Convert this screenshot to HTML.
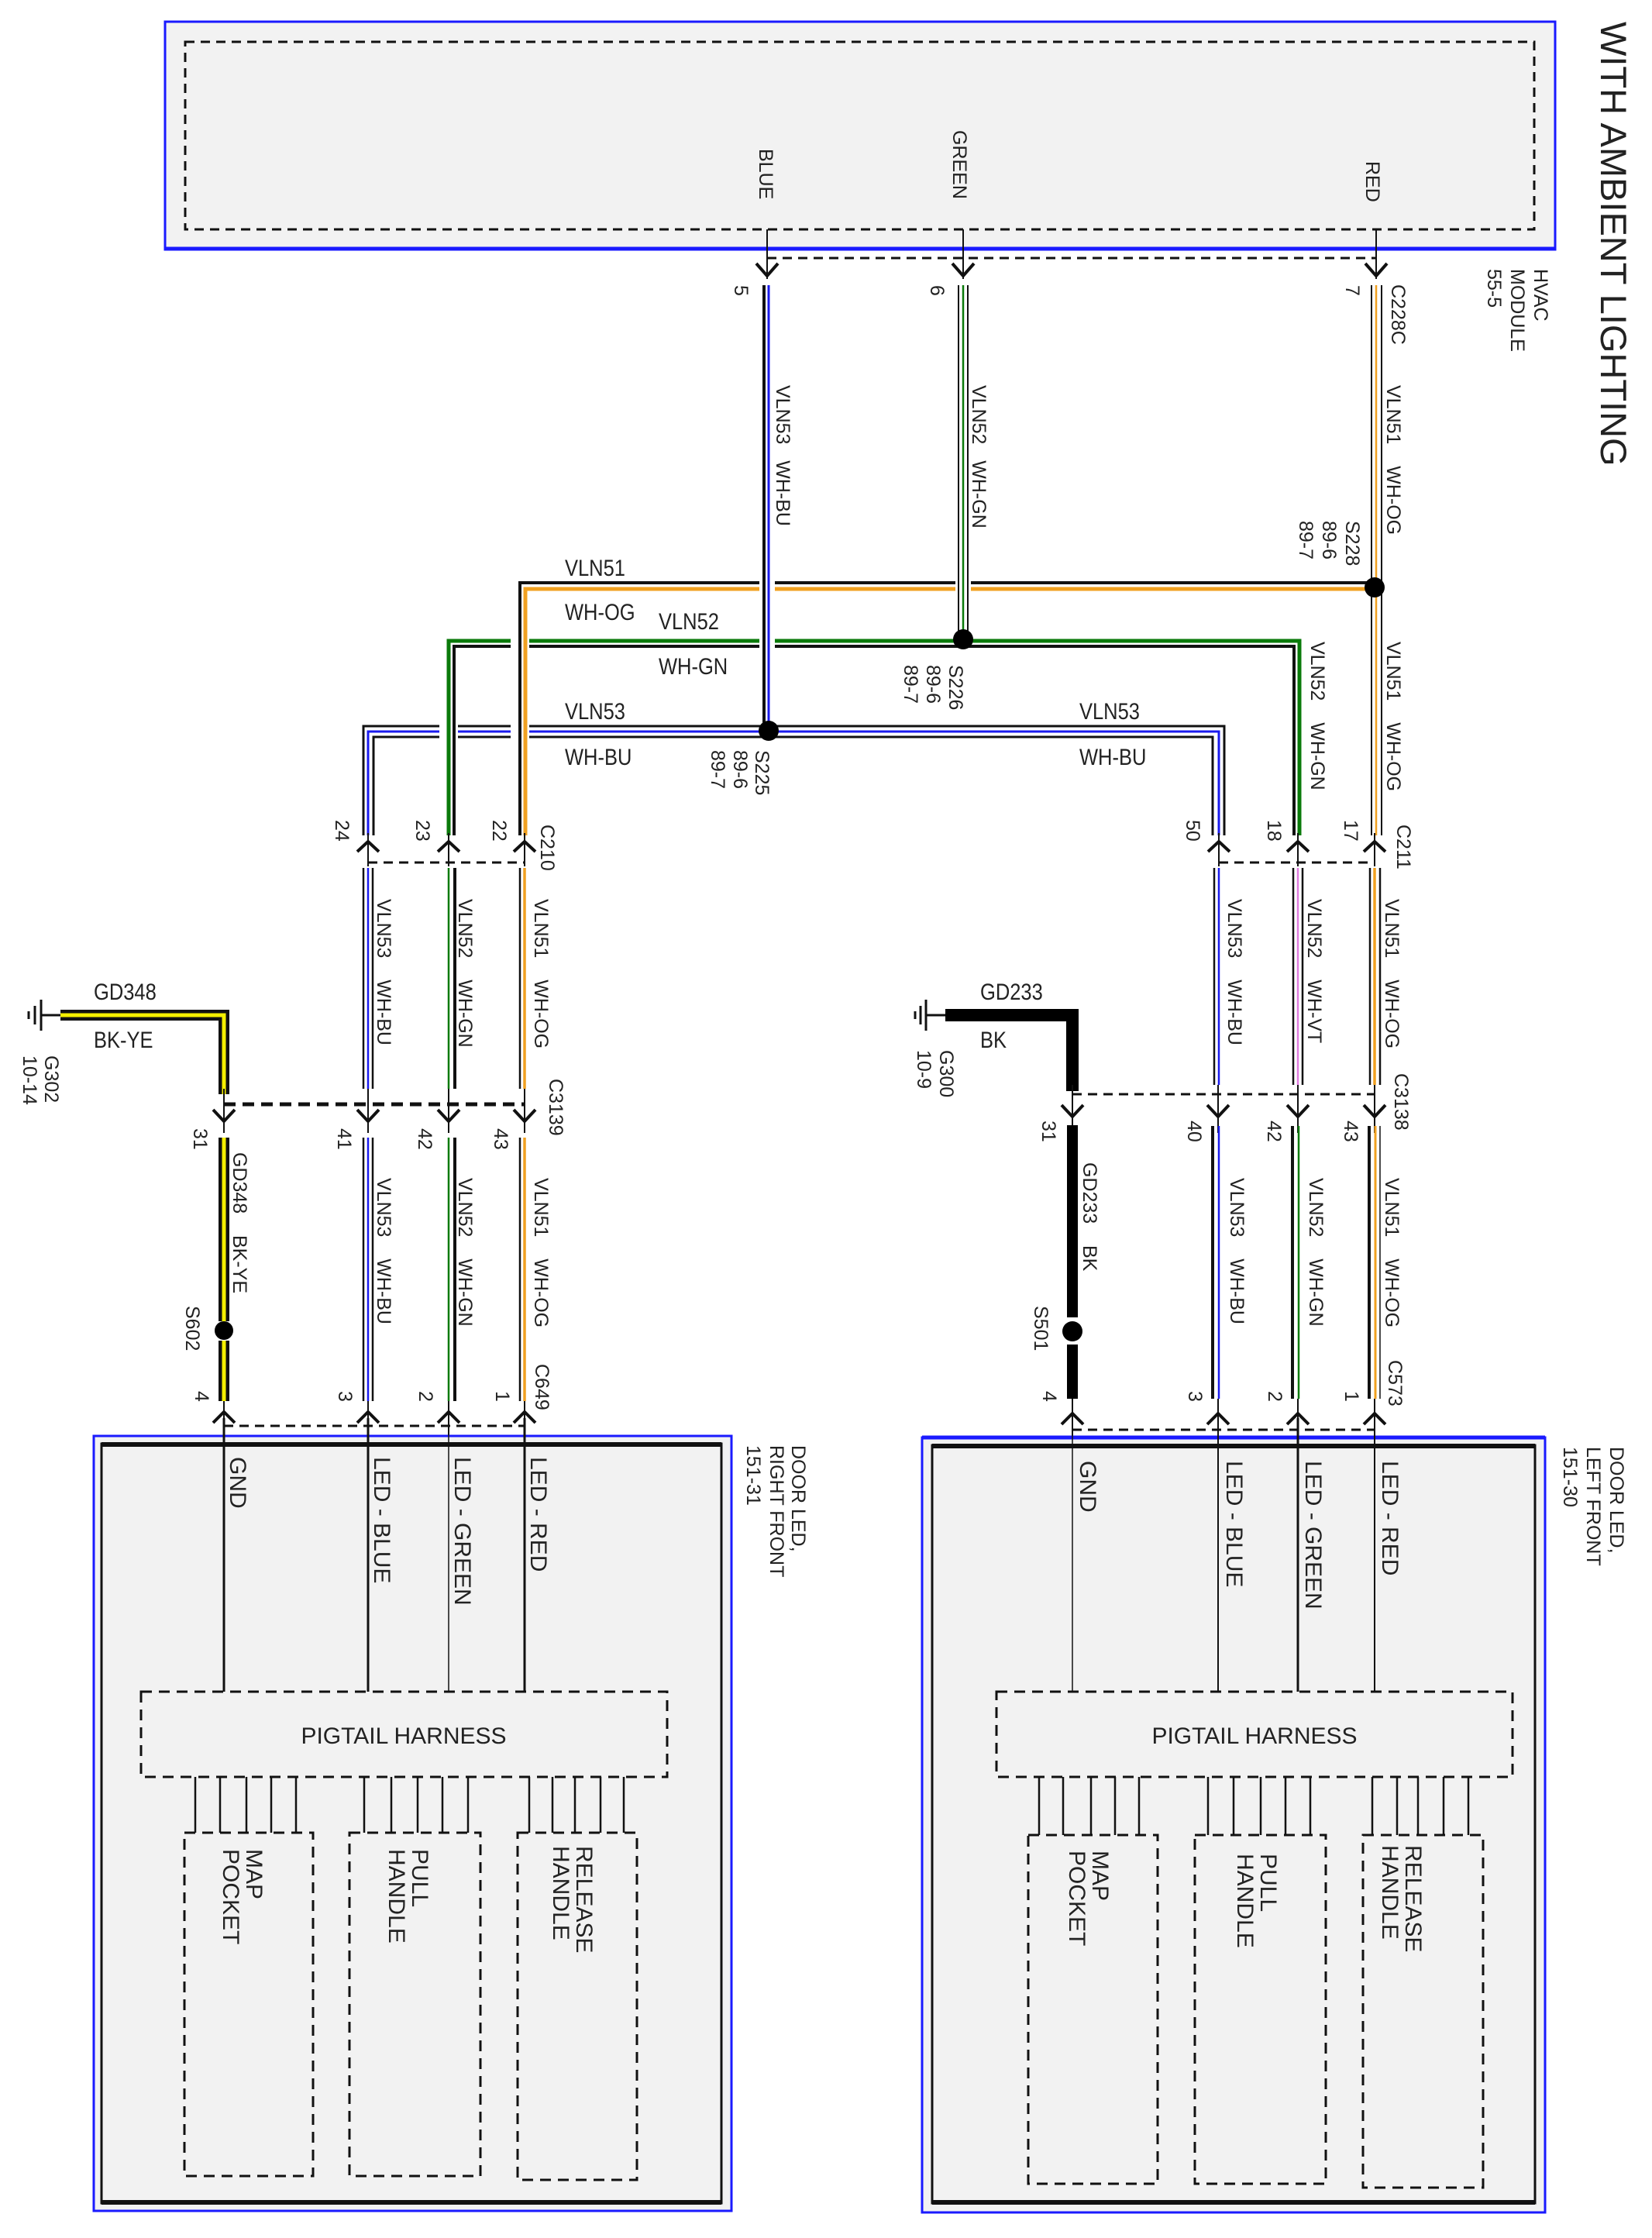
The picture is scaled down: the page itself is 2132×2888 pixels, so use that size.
<!DOCTYPE html>
<html><head><meta charset="utf-8"><style>
html,body{margin:0;padding:0;background:#fff}
svg{display:block}
text{font-family:"Liberation Sans",sans-serif;fill:#222;white-space:pre}
.r{font-size:25px}
.h{font-size:30px}
.b{font-size:30px}
</style></head><body>
<svg width="2132" height="2888" viewBox="0 0 2132 2888" xmlns="http://www.w3.org/2000/svg" xml:space="preserve">
<!-- TOP BOX -->
<rect x="213" y="28" width="1794" height="294" fill="#f2f2f2" stroke="#1a1aff" stroke-width="3"/>
<line x1="213" y1="321" x2="2007" y2="321" stroke="#1a1aff" stroke-width="5"/>
<rect x="239" y="54" width="1741" height="242" fill="none" stroke="#111" stroke-width="3" stroke-dasharray="12 8"/>
<text class="r" transform="translate(980,192) rotate(90)">BLUE</text>
<text class="r" transform="translate(1230,168) rotate(90)">GREEN</text>
<text class="r" transform="translate(1763,208) rotate(90)">RED</text>
<text transform="translate(2066,28) rotate(90)" style="font-size:47px">WITH AMBIENT LIGHTING</text>
<text class="r" transform="translate(1980,347) rotate(90)">HVAC</text>
<text class="r" transform="translate(1950,347) rotate(90)">MODULE</text>
<text class="r" transform="translate(1920,347) rotate(90)">55-5</text>
<g stroke="#111" stroke-width="2" fill="none">
<line x1="990" y1="296" x2="990" y2="360"/><line x1="1243" y1="296" x2="1243" y2="360"/><line x1="1776" y1="296" x2="1776" y2="360"/>
</g>
<line x1="990" y1="333" x2="1776" y2="333" stroke="#111" stroke-width="3" stroke-dasharray="12 8"/>
<g stroke="#111" stroke-width="4" fill="none">
<path d="M976 340 L990 356 L1004 340"/><path d="M1229 340 L1243 356 L1257 340"/><path d="M1762 340 L1776 356 L1790 340"/>
</g>
<text class="r" transform="translate(948,368) rotate(90)">5</text>
<text class="r" transform="translate(1201,368) rotate(90)">6</text>
<text class="r" transform="translate(1737,368) rotate(90)">7</text>
<text class="r" transform="translate(1796,367) rotate(90)">C228C</text>

<!-- TRUNKS -->
<g fill="none">
<path d="M469 1078 V937 H1580 V1078" stroke="#fff" stroke-width="26"/>
<path d="M469 1078 V937 H1580 V1078" stroke="#111" stroke-width="3"/>
<path d="M475 1078 V944 H1573 V1078" stroke="#1a1aee" stroke-width="3"/>
<path d="M482 1078 V951 H1565 V1078" stroke="#111" stroke-width="3"/>

<path d="M579 1078 V827 H1677 V1078" stroke="#fff" stroke-width="24"/>
<path d="M579 1078 V827 H1677 V1078" stroke="#0a7a0a" stroke-width="5"/>
<path d="M586 1078 V834 H1670 V1078" stroke="#111" stroke-width="4"/>

<path d="M671 1078 V752 H1765" stroke="#fff" stroke-width="24"/>
<path d="M671 1078 V752 H1765" stroke="#111" stroke-width="4"/>
<path d="M678 1078 V760 H1776" stroke="#f0a020" stroke-width="5"/>

<line x1="990" y1="368" x2="990" y2="935" stroke="#fff" stroke-width="20"/>
<line x1="986" y1="368" x2="986" y2="935" stroke="#111" stroke-width="4"/>
<line x1="992" y1="368" x2="992" y2="935" stroke="#1a1aee" stroke-width="3"/>
<line x1="1243" y1="368" x2="1243" y2="820" stroke="#fff" stroke-width="20"/>
<line x1="1237" y1="368" x2="1237" y2="820" stroke="#111" stroke-width="2"/>
<line x1="1243" y1="368" x2="1243" y2="820" stroke="#0a7a0a" stroke-width="2.5"/>
<line x1="1249" y1="368" x2="1249" y2="820" stroke="#111" stroke-width="2"/>
<line x1="1770" y1="368" x2="1770" y2="1078" stroke="#111" stroke-width="2"/>
<line x1="1776" y1="368" x2="1776" y2="1078" stroke="#f0a020" stroke-width="2.5"/>
<line x1="1783" y1="368" x2="1783" y2="1078" stroke="#111" stroke-width="2"/>
</g>
<circle cx="1774" cy="758" r="13" fill="#000"/>
<circle cx="1243" cy="825" r="13" fill="#000"/>
<circle cx="992" cy="943" r="13" fill="#000"/>

<text class="r" transform="translate(1002,497) rotate(90)">VLN53   WH-BU</text>
<text class="r" transform="translate(1255,497) rotate(90)">VLN52   WH-GN</text>
<text class="r" transform="translate(1790,497) rotate(90)">VLN51    WH-OG</text>
<text class="r" transform="translate(1737,672) rotate(90)">S228</text>
<text class="r" transform="translate(1707,672) rotate(90)">89-6</text>
<text class="r" transform="translate(1677,672) rotate(90)">89-7</text>
<text class="r" transform="translate(1225,858) rotate(90)">S226</text>
<text class="r" transform="translate(1196,858) rotate(90)">89-6</text>
<text class="r" transform="translate(1167,858) rotate(90)">89-7</text>
<text class="r" transform="translate(975,968) rotate(90)">S225</text>
<text class="r" transform="translate(947,968) rotate(90)">89-6</text>
<text class="r" transform="translate(918,968) rotate(90)">89-7</text>
<text class="r" transform="translate(1790,828) rotate(90)">VLN51    WH-OG</text>
<text class="r" transform="translate(1692,828) rotate(90)">VLN52    WH-GN</text>

<g style="font-size:30px">
<text transform="translate(729,743) scale(0.85,1)">VLN51</text>
<text transform="translate(729,800) scale(0.85,1)">WH-OG</text>
<text transform="translate(850,812) scale(0.85,1)">VLN52</text>
<text transform="translate(850,870) scale(0.85,1)">WH-GN</text>
<text transform="translate(729,928) scale(0.85,1)">VLN53</text>
<text transform="translate(729,987) scale(0.85,1)">WH-BU</text>
<text transform="translate(1393,928) scale(0.85,1)">VLN53</text>
<text transform="translate(1393,987) scale(0.85,1)">WH-BU</text>
<text transform="translate(121,1290) scale(0.85,1)">GD348</text>
<text transform="translate(121,1352) scale(0.85,1)">BK-YE</text>
<text transform="translate(1265,1290) scale(0.85,1)">GD233</text>
<text transform="translate(1265,1352) scale(0.85,1)">BK</text>
</g>

<g stroke="#111" stroke-width="2">
<line x1="475" y1="1075" x2="475" y2="1118"/><line x1="579" y1="1075" x2="579" y2="1118"/><line x1="677" y1="1075" x2="677" y2="1118"/>
<line x1="1573" y1="1075" x2="1573" y2="1118"/><line x1="1675" y1="1075" x2="1675" y2="1118"/><line x1="1774" y1="1075" x2="1774" y2="1118"/>
</g>
<g stroke="#111" stroke-width="3" stroke-dasharray="12 8">
<line x1="475" y1="1113" x2="677" y2="1113"/><line x1="1573" y1="1113" x2="1774" y2="1113"/>
</g>
<g stroke="#111" stroke-width="4" fill="none">
<path d="M461 1099 L475 1086 L489 1099"/><path d="M565 1099 L579 1086 L593 1099"/><path d="M663 1099 L677 1086 L691 1099"/>
<path d="M1559 1099 L1573 1086 L1587 1099"/><path d="M1661 1099 L1675 1086 L1689 1099"/><path d="M1760 1099 L1774 1086 L1788 1099"/>
</g>
<text class="r" transform="translate(433,1058) rotate(90)">24</text>
<text class="r" transform="translate(537,1058) rotate(90)">23</text>
<text class="r" transform="translate(636,1058) rotate(90)">22</text>
<text class="r" transform="translate(698,1064) rotate(90)">C210</text>
<text class="r" transform="translate(1531,1058) rotate(90)">50</text>
<text class="r" transform="translate(1636,1058) rotate(90)">18</text>
<text class="r" transform="translate(1735,1058) rotate(90)">17</text>
<text class="r" transform="translate(1803,1064) rotate(90)">C211</text>

<g stroke-width="2.5">
<line x1="469" y1="1120" x2="469" y2="1405" stroke="#111"/><line x1="475" y1="1120" x2="475" y2="1405" stroke="#1a1aee"/><line x1="481" y1="1120" x2="481" y2="1405" stroke="#111"/>
<line x1="579" y1="1120" x2="579" y2="1405" stroke="#0a7a0a"/><line x1="587" y1="1120" x2="587" y2="1405" stroke="#111" stroke-width="4"/>
<line x1="671" y1="1120" x2="671" y2="1405" stroke="#111"/><line x1="677" y1="1120" x2="677" y2="1405" stroke="#f0a020" stroke-width="3.5"/>
<line x1="1567" y1="1120" x2="1567" y2="1400" stroke="#111"/><line x1="1573" y1="1120" x2="1573" y2="1400" stroke="#1a1aee"/>
<line x1="1669" y1="1120" x2="1669" y2="1400" stroke="#111"/><line x1="1675" y1="1120" x2="1675" y2="1400" stroke="#e07be0"/><line x1="1681" y1="1120" x2="1681" y2="1400" stroke="#111"/>
<line x1="1768" y1="1120" x2="1768" y2="1400" stroke="#111"/><line x1="1774" y1="1120" x2="1774" y2="1400" stroke="#f0a020" stroke-width="3.5"/><line x1="1781" y1="1120" x2="1781" y2="1400" stroke="#111"/>
</g>
<text class="r" transform="translate(487,1160) rotate(90)">VLN53    WH-BU</text>
<text class="r" transform="translate(592,1160) rotate(90)">VLN52    WH-GN</text>
<text class="r" transform="translate(690,1160) rotate(90)">VLN51    WH-OG</text>
<text class="r" transform="translate(709,1392) rotate(90)">C3139</text>
<text class="r" transform="translate(1585,1160) rotate(90)">VLN53    WH-BU</text>
<text class="r" transform="translate(1688,1160) rotate(90)">VLN52    WH-VT</text>
<text class="r" transform="translate(1788,1160) rotate(90)">VLN51    WH-OG</text>
<text class="r" transform="translate(1800,1385) rotate(90)">C3138</text>

<g stroke="#111" stroke-width="3">
<line x1="53" y1="1290" x2="53" y2="1330"/><line x1="45" y1="1298" x2="45" y2="1322"/><line x1="37" y1="1305" x2="37" y2="1315"/><line x1="53" y1="1310" x2="80" y2="1310"/>
<line x1="1195" y1="1290" x2="1195" y2="1330"/><line x1="1188" y1="1298" x2="1188" y2="1322"/><line x1="1181" y1="1305" x2="1181" y2="1315"/><line x1="1195" y1="1310" x2="1220" y2="1310"/>
</g>
<path d="M78 1310 H289 V1412" fill="none" stroke="#111" stroke-width="14"/>
<path d="M78 1310 H289 V1412" fill="none" stroke="#f5f000" stroke-width="5"/>
<path d="M1220 1310 H1384 V1408" fill="none" stroke="#000" stroke-width="16"/>
<text class="r" transform="translate(58,1362) rotate(90)">G302</text>
<text class="r" transform="translate(30,1362) rotate(90)">10-14</text>
<text class="r" transform="translate(1213,1355) rotate(90)">G300</text>
<text class="r" transform="translate(1184,1355) rotate(90)">10-9</text>

<g stroke="#111" stroke-width="2">
<line x1="289" y1="1405" x2="289" y2="1462"/><line x1="475" y1="1405" x2="475" y2="1462"/><line x1="579" y1="1405" x2="579" y2="1462"/><line x1="677" y1="1405" x2="677" y2="1462"/>
<line x1="1384" y1="1400" x2="1384" y2="1462"/><line x1="1572" y1="1400" x2="1572" y2="1462"/><line x1="1675" y1="1400" x2="1675" y2="1462"/><line x1="1774" y1="1400" x2="1774" y2="1462"/>
</g>
<line x1="289" y1="1425" x2="677" y2="1425" stroke="#111" stroke-width="5" stroke-dasharray="15 9"/>
<line x1="1384" y1="1412" x2="1774" y2="1412" stroke="#111" stroke-width="3" stroke-dasharray="12 8"/>
<g stroke="#111" stroke-width="4" fill="none">
<path d="M275 1432 L289 1447 L303 1432"/><path d="M461 1432 L475 1447 L489 1432"/><path d="M565 1432 L579 1447 L593 1432"/><path d="M663 1432 L677 1447 L691 1432"/>
<path d="M1370 1426 L1384 1441 L1398 1426"/><path d="M1558 1426 L1572 1441 L1586 1426"/><path d="M1661 1426 L1675 1441 L1689 1426"/><path d="M1760 1426 L1774 1441 L1788 1426"/>
</g>
<text class="r" transform="translate(250,1456) rotate(90)">31</text>
<text class="r" transform="translate(436,1456) rotate(90)">41</text>
<text class="r" transform="translate(540,1456) rotate(90)">42</text>
<text class="r" transform="translate(638,1456) rotate(90)">43</text>
<text class="r" transform="translate(1345,1446) rotate(90)">31</text>
<text class="r" transform="translate(1533,1446) rotate(90)">40</text>
<text class="r" transform="translate(1636,1446) rotate(90)">42</text>
<text class="r" transform="translate(1735,1446) rotate(90)">43</text>

<line x1="289" y1="1468" x2="289" y2="1705" stroke="#111" stroke-width="14"/>
<line x1="289" y1="1468" x2="289" y2="1705" stroke="#f5f000" stroke-width="5"/>
<line x1="289" y1="1730" x2="289" y2="1808" stroke="#111" stroke-width="14"/>
<line x1="289" y1="1730" x2="289" y2="1808" stroke="#f5f000" stroke-width="5"/>
<circle cx="289" cy="1717" r="12" fill="#000"/>
<line x1="1384" y1="1452" x2="1384" y2="1700" stroke="#000" stroke-width="14"/>
<line x1="1384" y1="1735" x2="1384" y2="1805" stroke="#000" stroke-width="14"/>
<circle cx="1384" cy="1718" r="13" fill="#000"/>
<g stroke-width="2.5">
<line x1="469" y1="1468" x2="469" y2="1808" stroke="#111"/><line x1="475" y1="1468" x2="475" y2="1808" stroke="#1a1aee"/><line x1="481" y1="1468" x2="481" y2="1808" stroke="#111"/>
<line x1="579" y1="1468" x2="579" y2="1808" stroke="#0a7a0a"/><line x1="587" y1="1468" x2="587" y2="1808" stroke="#111" stroke-width="4"/>
<line x1="671" y1="1468" x2="671" y2="1808" stroke="#111"/><line x1="677" y1="1468" x2="677" y2="1808" stroke="#f0a020" stroke-width="3.5"/>
<line x1="1565" y1="1453" x2="1565" y2="1805" stroke="#111" stroke-width="4"/><line x1="1573" y1="1453" x2="1573" y2="1805" stroke="#1a1aee"/>
<line x1="1668" y1="1453" x2="1668" y2="1805" stroke="#111" stroke-width="4"/><line x1="1676" y1="1453" x2="1676" y2="1805" stroke="#0a7a0a"/>
<line x1="1767" y1="1453" x2="1767" y2="1805" stroke="#111" stroke-width="4"/><line x1="1775" y1="1453" x2="1775" y2="1805" stroke="#f0a020" stroke-width="3"/><line x1="1781" y1="1453" x2="1781" y2="1805" stroke="#111" stroke-width="1.5"/>
</g>
<text class="r" transform="translate(301,1487) rotate(90)">GD348    BK-YE</text>
<text class="r" transform="translate(240,1685) rotate(90)">S602</text>
<text class="r" transform="translate(487,1520) rotate(90)">VLN53    WH-BU</text>
<text class="r" transform="translate(592,1520) rotate(90)">VLN52    WH-GN</text>
<text class="r" transform="translate(690,1520) rotate(90)">VLN51    WH-OG</text>
<text class="r" transform="translate(691,1760) rotate(90)">C649</text>
<text class="r" transform="translate(1398,1500) rotate(90)">GD233    BK</text>
<text class="r" transform="translate(1335,1685) rotate(90)">S501</text>
<text class="r" transform="translate(1588,1520) rotate(90)">VLN53    WH-BU</text>
<text class="r" transform="translate(1690,1520) rotate(90)">VLN52    WH-GN</text>
<text class="r" transform="translate(1788,1520) rotate(90)">VLN51    WH-OG</text>
<text class="r" transform="translate(1792,1755) rotate(90)">C573</text>

<g stroke="#111" stroke-width="2">
<line x1="289" y1="1808" x2="289" y2="2183"/><line x1="475" y1="1808" x2="475" y2="2183"/><line x1="579" y1="1808" x2="579" y2="2183"/><line x1="677" y1="1808" x2="677" y2="2183"/>
<line x1="1384" y1="1805" x2="1384" y2="2183"/><line x1="1572" y1="1805" x2="1572" y2="2183"/><line x1="1675" y1="1805" x2="1675" y2="2183"/><line x1="1774" y1="1805" x2="1774" y2="2183"/>
</g>
<text class="r" transform="translate(252,1795) rotate(90)">4</text>
<text class="r" transform="translate(437,1795) rotate(90)">3</text>
<text class="r" transform="translate(541,1795) rotate(90)">2</text>
<text class="r" transform="translate(640,1795) rotate(90)">1</text>
<text class="r" transform="translate(1346,1795) rotate(90)">4</text>
<text class="r" transform="translate(1534,1795) rotate(90)">3</text>
<text class="r" transform="translate(1637,1795) rotate(90)">2</text>
<text class="r" transform="translate(1736,1795) rotate(90)">1</text>

<rect x="121" y="1853" width="823" height="1000" fill="#f2f2f2" stroke="#1a1aff" stroke-width="3"/>
<rect x="131" y="1863" width="800" height="980" fill="none" stroke="#111" stroke-width="3"/>
<line x1="131" y1="1864" x2="931" y2="1864" stroke="#111" stroke-width="6"/>
<line x1="131" y1="2842" x2="931" y2="2842" stroke="#111" stroke-width="6"/>
<rect x="1190" y="1855" width="804" height="1000" fill="#f2f2f2" stroke="#1a1aff" stroke-width="3"/>
<line x1="1190" y1="1855" x2="1994" y2="1855" stroke="#1a1aff" stroke-width="5"/>
<rect x="1203" y="1865" width="778" height="978" fill="none" stroke="#111" stroke-width="3"/>
<line x1="1203" y1="1866" x2="1981" y2="1866" stroke="#111" stroke-width="6"/>
<line x1="1203" y1="2842" x2="1981" y2="2842" stroke="#111" stroke-width="6"/>

<g stroke="#111" stroke-width="3">
<line x1="289" y1="1830" x2="289" y2="2183"/><line x1="475" y1="1830" x2="475" y2="2183"/><line x1="579" y1="1830" x2="579" y2="2183" stroke-width="1.5"/><line x1="677" y1="1830" x2="677" y2="2183"/>
<line x1="1384" y1="1830" x2="1384" y2="2183" stroke-width="1.5"/><line x1="1572" y1="1830" x2="1572" y2="2183" stroke-width="2"/><line x1="1675" y1="1830" x2="1675" y2="2183"/><line x1="1774" y1="1830" x2="1774" y2="2183" stroke-width="2"/>
</g>
<g stroke="#111" stroke-width="3" stroke-dasharray="12 8">
<line x1="289" y1="1840" x2="677" y2="1840"/><line x1="1384" y1="1845" x2="1774" y2="1845"/>
</g>
<g stroke="#111" stroke-width="4" fill="none">
<path d="M275 1836 L289 1822 L303 1836"/><path d="M461 1836 L475 1822 L489 1836"/><path d="M565 1836 L579 1822 L593 1836"/><path d="M663 1836 L677 1822 L691 1836"/>
<path d="M1370 1838 L1384 1824 L1398 1838"/><path d="M1558 1838 L1572 1824 L1586 1838"/><path d="M1661 1838 L1675 1824 L1689 1838"/><path d="M1760 1838 L1774 1824 L1788 1838"/>
</g>
<text class="b" transform="translate(297,1880) rotate(90)">GND</text>
<text class="b" transform="translate(483,1880) rotate(90)">LED - BLUE</text>
<text class="b" transform="translate(587,1880) rotate(90)">LED - GREEN</text>
<text class="b" transform="translate(685,1880) rotate(90)">LED - RED</text>
<text class="b" transform="translate(1394,1885) rotate(90)">GND</text>
<text class="b" transform="translate(1583,1885) rotate(90)">LED - BLUE</text>
<text class="b" transform="translate(1685,1885) rotate(90)">LED - GREEN</text>
<text class="b" transform="translate(1784,1885) rotate(90)">LED - RED</text>
<text class="r" transform="translate(1022,1865) rotate(90)">DOOR LED,</text>
<text class="r" transform="translate(994,1865) rotate(90)">RIGHT FRONT</text>
<text class="r" transform="translate(964,1865) rotate(90)">151-31</text>
<text class="r" transform="translate(2078,1867) rotate(90)">DOOR LED,</text>
<text class="r" transform="translate(2048,1867) rotate(90)">LEFT FRONT</text>
<text class="r" transform="translate(2018,1867) rotate(90)">151-30</text>

<g fill="none" stroke="#111" stroke-width="3" stroke-dasharray="14 9">
<rect x="182" y="2183" width="679" height="110"/>
<rect x="1286" y="2183" width="666" height="110"/>
<rect x="238" y="2365" width="166" height="443"/>
<rect x="451" y="2365" width="169" height="443"/>
<rect x="668" y="2365" width="154" height="448"/>
<rect x="1327" y="2368" width="167" height="450"/>
<rect x="1542" y="2368" width="169" height="450"/>
<rect x="1759" y="2368" width="155" height="455"/>
</g>
<text x="521" y="2250" text-anchor="middle" style="font-size:30px">PIGTAIL HARNESS</text>
<text x="1619" y="2250" text-anchor="middle" style="font-size:30px">PIGTAIL HARNESS</text>
<g stroke="#111" stroke-width="2.5">
<path d="M252 2293V2365M284 2293V2365M318 2293V2365M350 2293V2365M382 2293V2365M470 2293V2365M505 2293V2365M539 2293V2365M571 2293V2365M604 2293V2365M683 2293V2365M713 2293V2365M742 2293V2365M775 2293V2365M805 2293V2365"/>
<path d="M1341 2293V2368M1372 2293V2368M1408 2293V2368M1439 2293V2368M1470 2293V2368M1559 2293V2368M1592 2293V2368M1627 2293V2368M1659 2293V2368M1691 2293V2368M1771 2293V2368M1803 2293V2368M1830 2293V2368M1863 2293V2368M1895 2293V2368"/>
</g>
<text class="b" transform="translate(318,2386) rotate(90)">MAP</text>
<text class="b" transform="translate(288,2386) rotate(90)">POCKET</text>
<text class="b" transform="translate(532,2386) rotate(90)">PULL</text>
<text class="b" transform="translate(502,2386) rotate(90)">HANDLE</text>
<text class="b" transform="translate(744,2382) rotate(90)">RELEASE</text>
<text class="b" transform="translate(714,2382) rotate(90)">HANDLE</text>
<text class="b" transform="translate(1410,2388) rotate(90)">MAP</text>
<text class="b" transform="translate(1380,2388) rotate(90)">POCKET</text>
<text class="b" transform="translate(1627,2392) rotate(90)">PULL</text>
<text class="b" transform="translate(1597,2392) rotate(90)">HANDLE</text>
<text class="b" transform="translate(1814,2381) rotate(90)">RELEASE</text>
<text class="b" transform="translate(1784,2381) rotate(90)">HANDLE</text>
</svg>
</body></html>
